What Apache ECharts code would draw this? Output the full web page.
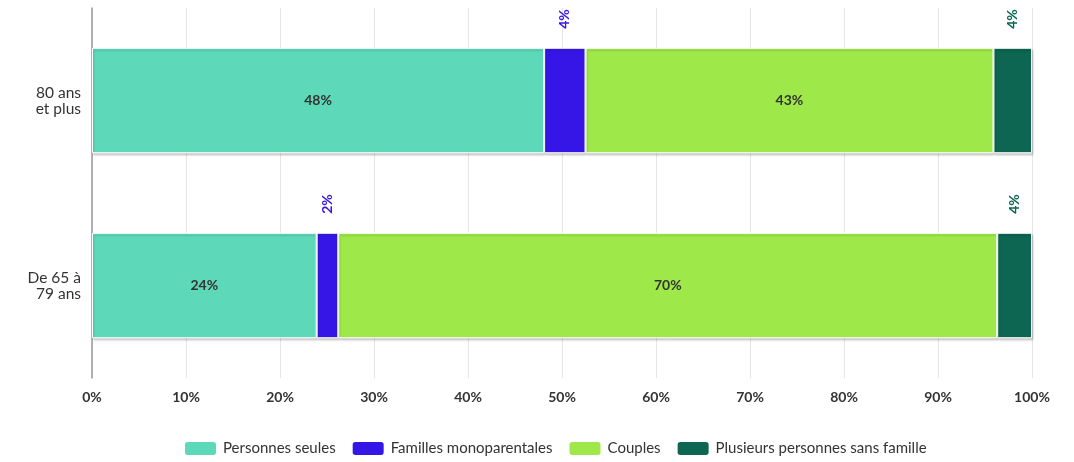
<!DOCTYPE html>
<html><head><meta charset="utf-8">
<script src="https://cdn.jsdelivr.net/npm/echarts@6/dist/echarts.min.js"></script>
<style>html,body{margin:0;padding:0;background:#fff}#c{width:1074px;height:462px}</style>
</head><body><div id="c"></div>
<script>
const categories = ["De 65 à\n79 ans", "80 ans\net plus"];
const seriesNames = ["Personnes seules", "Familles monoparentales", "Couples", "Plusieurs personnes sans famille"];
const personnesSeules = [23.9, 48.1];
const famillesMono = [2.3, 4.4];
const couples = [70.1, 43.4];
const plusieurs = [3.7, 4.1];
const xTicks = [0, 10, 20, 30, 40, 50, 60, 70, 80, 90, 100];
const colors = ["#5dd8b8", "#3516e6", "#9fe84a", "#0c6651"];
const FONT = "Lato";

const values = [personnesSeules, famillesMono, couples, plusieurs];
const outside = [false, true, false, true];

const chart = echarts.init(document.getElementById('c'), null, {renderer: 'canvas'});
chart.setOption({
  animation: false,
  textStyle: {fontFamily: FONT},
  grid: {left: 92, right: 42, top: 8, bottom: 84, containLabel: false},
  xAxis: {
    type: 'value', min: 0, max: 100, interval: 10,
    axisLine: {show: false}, axisTick: {show: false},
    splitLine: {show: true, lineStyle: {color: '#e6e6e6', width: 1}},
    axisLabel: {formatter: v => xTicks.includes(v) ? v + '%' : '', color: '#333', fontSize: 14, fontWeight: 'bold', margin: 12, fontFamily: FONT}
  },
  yAxis: {
    type: 'category', data: categories,
    axisLine: {show: true, lineStyle: {color: '#999', width: 1.5}},
    axisTick: {show: false},
    axisLabel: {color: '#333', fontSize: 15.5, margin: 11, lineHeight: 16, align: 'right', fontFamily: FONT}
  },
  legend: {
    bottom: 0, left: 178,
    itemWidth: 33, itemHeight: 15, itemGap: 15,
    icon: 'roundRect',
    textStyle: {color: '#333', fontSize: 15, fontFamily: FONT, padding: [0, 0, 0, 1]},
    data: seriesNames
  },
  series: seriesNames.map((name, i) => ({
    name, type: 'bar', stack: 'total', barWidth: '57%',
    data: values[i],
    itemStyle: {color: colors[i], borderColor: '#fff', borderWidth: 1,
      shadowColor: 'rgba(0,0,0,0.18)', shadowBlur: 2, shadowOffsetX: 1, shadowOffsetY: 2},
    label: outside[i] ? {
      show: true, position: 'top', distance: 19, rotate: 90,
      align: 'left', verticalAlign: 'middle',
      color: colors[i], fontSize: 14, fontWeight: 'bold', fontFamily: FONT,
      formatter: p => Math.round(p.value) + '%'
    } : {
      show: true, position: 'inside',
      color: '#333', fontSize: 14, fontWeight: 'bold', fontFamily: FONT,
      formatter: p => Math.round(p.value) + '%'
    }
  }))
});
</script></body></html>
